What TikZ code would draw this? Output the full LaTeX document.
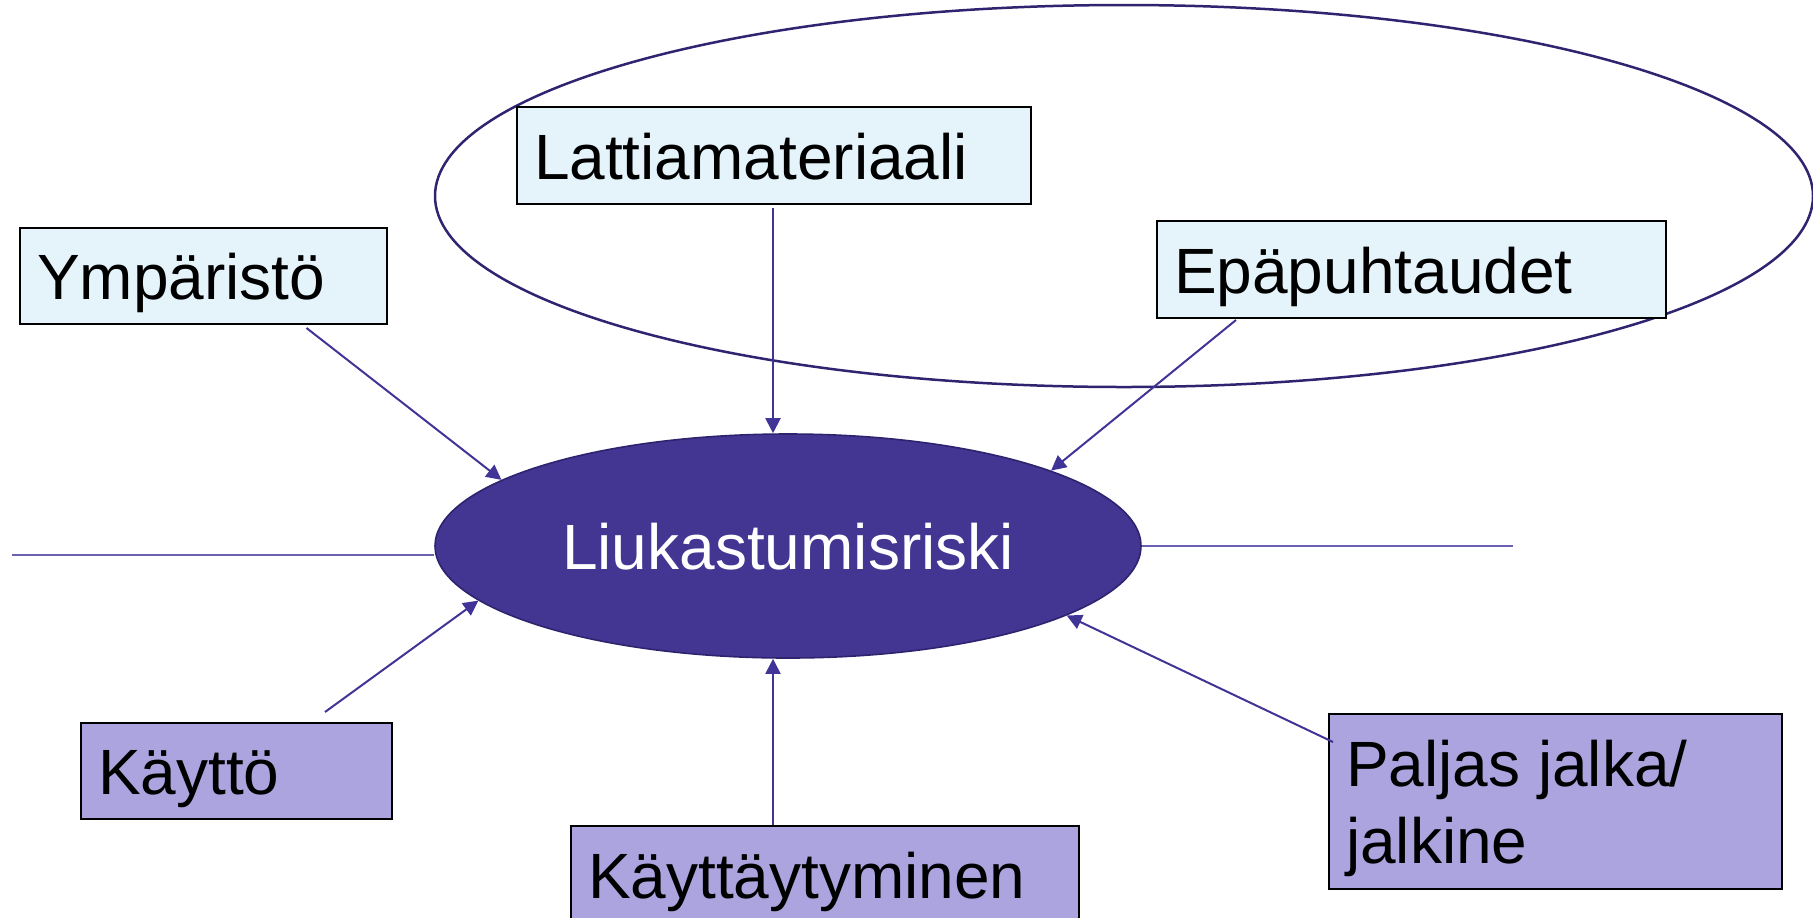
\documentclass[tikz,border=0pt]{standalone}
\usepackage{fontspec}
\setmainfont{Liberation Sans}
\usetikzlibrary{arrows.meta,shapes.geometric}
\definecolor{lightblue}{RGB}{229,244,251}
\definecolor{lightpurple}{RGB}{172,164,222}
\definecolor{centerfill}{RGB}{67,53,146}
\definecolor{centerline}{RGB}{45,35,110}
\definecolor{ovalline}{RGB}{46,36,112}
\definecolor{arrowc}{RGB}{64,52,150}
\definecolor{thinline}{RGB}{106,96,180}
\begin{document}
\begin{tikzpicture}[x=0.5pt,y=-0.5pt,
  box/.style={draw=black, line width=1pt, rectangle, anchor=north west,
    inner xsep=8.5pt, inner ysep=0pt, align=left,
    text height=23.5pt, text depth=0pt,
    font=\fontsize{32}{38.5}\selectfont},
  bluebox/.style={box, fill=lightblue},
  purplebox/.style={box, fill=lightpurple},
  arr/.style={draw=arrowc, line width=1pt, -{Triangle[length=7.5pt,width=7.5pt]}},
  thin/.style={draw=thinline, line width=0.7pt}
]
\useasboundingbox (0,0) rectangle (1813,917);
\clip (0,0) rectangle (1813,917);

% big outline oval
\draw[ovalline, line width=1.25pt] (1124,196) ellipse [x radius=344.5pt, y radius=95.5pt];

% central ellipse
\node[ellipse, fill=centerfill, draw=centerline, line width=0.8pt,
  minimum width=353pt, minimum height=112pt, inner sep=0pt,
  text=white, font=\fontsize{32}{38.5}\selectfont,
  text height=23.5pt, text depth=0pt] (cen) at (788,546) {Liukastumisriski};

% boxes
\node[bluebox, text width=240pt, minimum height=48.5pt] (lat) at (516,106) {Lattiamateriaali};
\node[bluebox, text width=166.5pt, minimum height=48pt] (ymp) at (19,227) {Ympäristö};
\node[bluebox, text width=237.5pt, minimum height=48.5pt] (epa) at (1156,220) {Epäpuhtaudet};
\node[purplebox, text width=138.5pt, minimum height=48pt] (kay) at (80,722) {Käyttö};
\node[purplebox, text width=237pt, minimum height=48.5pt] (kyt) at (570,825) {Käyttäytyminen};
\node[draw=black, line width=1pt, rectangle, anchor=north west, fill=lightpurple,
  inner xsep=8.5pt, inner ysep=0pt, minimum height=87.5pt,
  text height=23.5pt, text depth=39pt,
  font=\fontsize{32}{38.5}\selectfont] (pal) at (1328,713)
  {\parbox[t]{209.5pt}{\raggedright Paljas jalka/\\jalkine}};

% free ends of the thin lines
\coordinate (lend) at (12,555);
\coordinate (rend) at (1513,546);
\draw[thin] (lend) -- (lend -| cen.west);
\draw[thin] (cen.east) -- (rend);

% arrows
\draw[arr, shorten <=1.5pt] ([xshift=-0.5pt]lat.south) -- ([xshift=-0.5pt]lat.south |- cen.north);
\draw[arr] ([xshift=51.5pt,yshift=-1.5pt]ymp.south) -- (cen.167.6);
\draw[arr] ([xshift=-87.75pt,yshift=-0.5pt]epa.south) -- (cen.16.7);
\draw[arr] ([xshift=44.25pt,yshift=5pt]kay.north) -- (cen.190.2);
\draw[arr] ([xshift=-26pt]kyt.north) -- ([xshift=-26pt]kyt.north |- cen.south);
\draw[arr] ([xshift=2.5pt,yshift=-14.5pt]pal.north west) -- (cen.346.9);
\end{tikzpicture}
\end{document}
